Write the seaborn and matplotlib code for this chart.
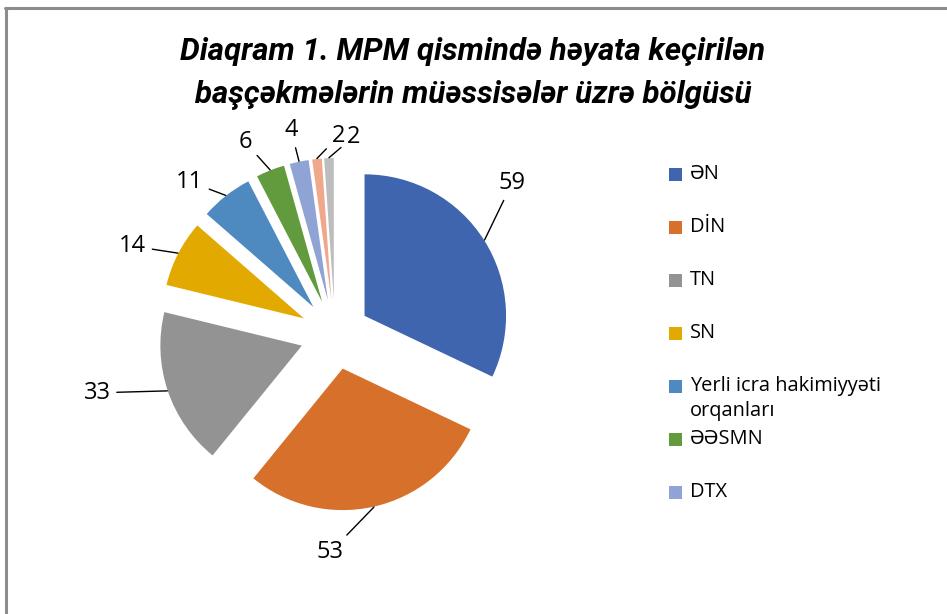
import numpy as np
import matplotlib
matplotlib.use("Agg")
import matplotlib.pyplot as plt
from matplotlib.patches import Rectangle
from matplotlib.lines import Line2D
import seaborn as sns

# ---------------- data ----------------
categories = ["ƏN", "DİN", "TN", "SN", "Yerli icra hakimiyyəti\norqanları",
              "ƏƏSMN", "DTX", "", ""]
values = [59, 53, 33, 14, 11, 6, 4, 2, 2]
legend_count = 7  # only the first seven entries are visible in the legend
title_lines = ["Diaqram 1. MPM qismində həyata keçirilən",
               "başçəkmələrin müəssisələr üzrə bölgüsü"]

colors = ["#3F65AF", "#D6702B", "#939393", "#E2AA00", "#4E8AC0",
          "#629A3E", "#8FA3D5", "#F0A88C", "#BDBDBD"]

# label layout (angle offset from slice bisector in degrees, radial distance)
label_dtheta = [-8.3, 14.0, 4.8, -3.8, -5.4, -3.5, -0.4, 6.8, 7.2]
label_dist = [1.65, 1.54, 1.73, 1.56, 1.49, 1.50, 1.48, 1.40, 1.40]

sns.set_theme(style="white")
FONT = ["Open Sans", "Noto Sans", "DejaVu Sans"]
plt.rcParams["font.family"] = FONT

W, H = 947, 614
fig = plt.figure(figsize=(W / 100, H / 100), dpi=100)
fig.patch.set_facecolor("white")

# pie axes placed so that the pie centre / radius land where they should
cx, cy, R = 335, 334.5, 141.5
L = 1.8
ax = fig.add_axes([(cx - L * R) / W, (H - cy - L * R) / H, 2 * L * R / W, 2 * L * R / H])

explode = [0.247] * len(values)
wedges, _ = ax.pie(values, colors=colors, startangle=90, counterclock=False,
                   explode=explode, radius=1, wedgeprops=dict(linewidth=0))
ax.set_xlim(-L, L)
ax.set_ylim(-L, L)
ax.set_aspect("equal")
ax.axis("off")

total = sum(values)
cum = np.cumsum([0] + values)
for i, v in enumerate(values):
    bis = (cum[i] + v / 2) / total * 360.0  # clockwise from top
    br = np.radians(bis)
    ex, ey = 1.25 * np.sin(br), 1.25 * np.cos(br)
    la = np.radians(bis + label_dtheta[i])
    lx, ly = label_dist[i] * np.sin(la), label_dist[i] * np.cos(la)
    ax.annotate(str(v), xy=(ex, ey), xytext=(lx, ly), textcoords="data",
                ha="center", va="center", fontsize=17, color="black",
                arrowprops=dict(arrowstyle="-", lw=1.0, color="black",
                                shrinkA=2, shrinkB=0))

# title
TFONT = ["Roboto", "DejaVu Sans"]
fig.text(473 / W, 1 - 52 / H, title_lines[0], ha="center", va="center",
         fontsize=22.5, fontweight="bold", fontstyle="italic", color="black",
         family=TFONT)
fig.text(473 / W, 1 - 95 / H, title_lines[1], ha="center", va="center",
         fontsize=22.5, fontweight="bold", fontstyle="italic", color="black",
         family=TFONT)

# legend (drawn manually to match fixed row spacing)
y0, step = 174, 53
for i in range(legend_count):
    yc = y0 + i * step
    fig.patches.append(Rectangle((669 / W, 1 - (yc + 6.5) / H), 13 / W, 13 / H,
                                 transform=fig.transFigure, facecolor=colors[i],
                                 edgecolor="none"))
    for k, line in enumerate(categories[i].split("\n")):
        fig.text(690 / W, 1 - (yc + k * 25) / H, line, ha="left", va="center",
                 fontsize=14.4, color="black")

# chart frame (left and top border)
fig.add_artist(Line2D([6 / W, 6 / W], [0, 1 - 8 / H], transform=fig.transFigure,
                      color="#8C8C8C", lw=2.2))
fig.add_artist(Line2D([5 / W, 1], [1 - 8 / H, 1 - 8 / H], transform=fig.transFigure,
                      color="#8C8C8C", lw=2.2))

fig.savefig("out.png", dpi=100, facecolor="white")
